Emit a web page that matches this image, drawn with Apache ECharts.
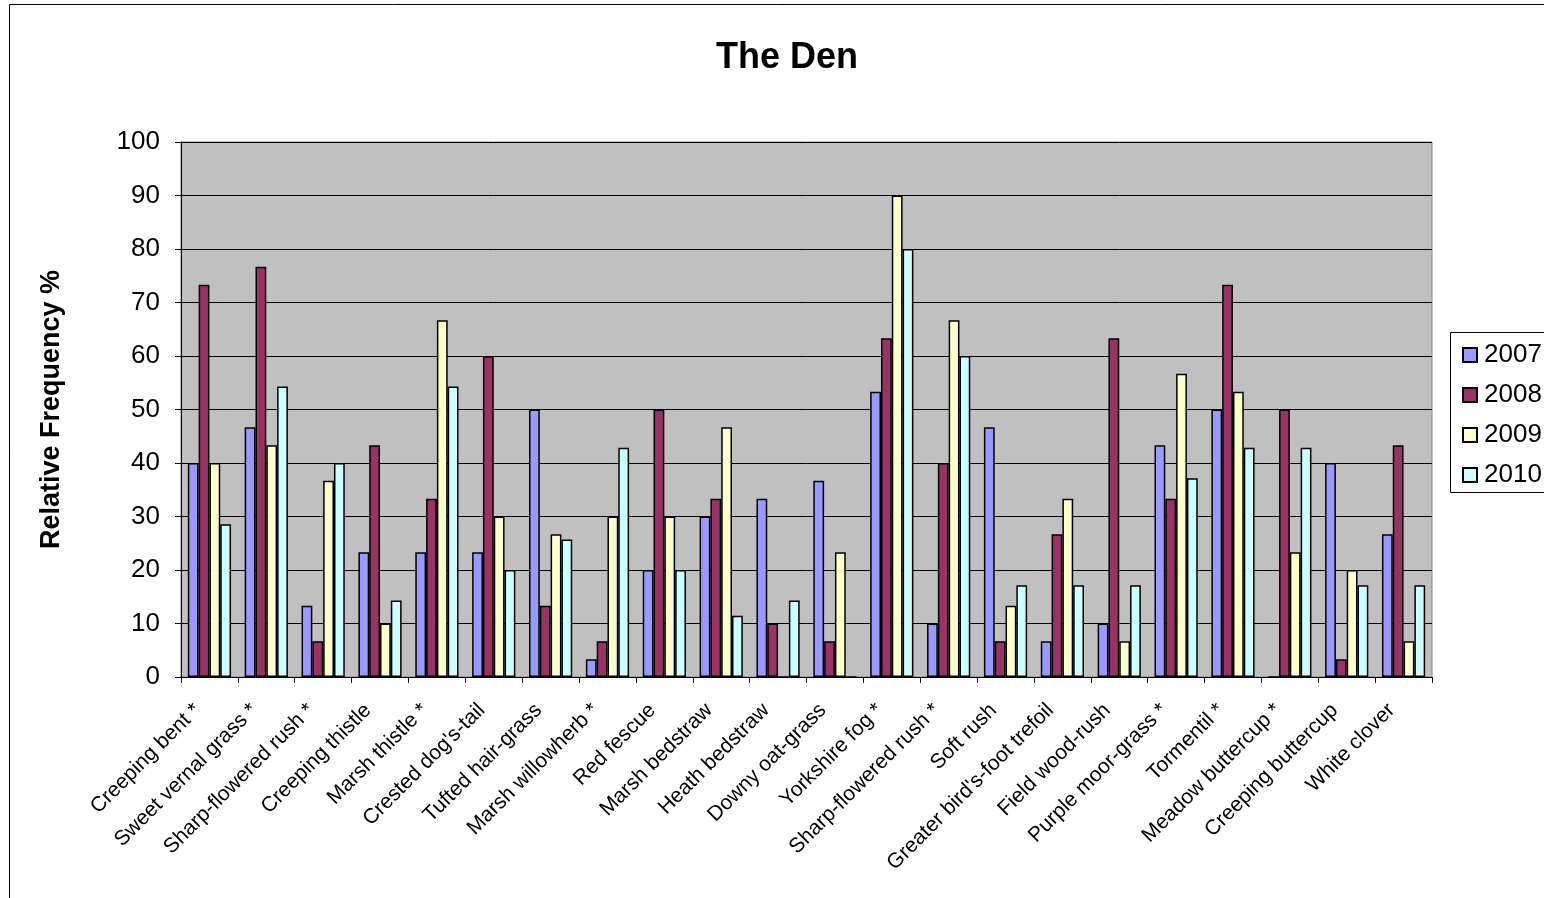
<!DOCTYPE html>
<html>
<head>
<meta charset="utf-8">
<title>The Den</title>
<script src="https://cdn.jsdelivr.net/npm/echarts@6/dist/echarts.min.js"></script>
<style>
  html, body { margin: 0; padding: 0; background: #ffffff; }
  #chart { width: 1544px; height: 898px; }
</style>
</head>
<body>
<div id="chart"></div>
<script>
// Species recorded at The Den (* marks indicator species)
const categories = [
  'Creeping bent *', 'Sweet vernal grass *', 'Sharp-flowered rush *', 'Creeping thistle',
  'Marsh thistle *', "Crested dog's-tail", 'Tufted hair-grass', 'Marsh willowherb *',
  'Red fescue', 'Marsh bedstraw', 'Heath bedstraw', 'Downy oat-grass',
  'Yorkshire fog *', 'Sharp-flowered rush *', 'Soft rush', "Greater bird's-foot trefoil",
  'Field wood-rush', 'Purple moor-grass *', 'Tormentil *', 'Meadow buttercup *',
  'Creeping buttercup', 'White clover'
];

// Relative frequency (%) per survey year
const values2007 = [40, 46.7, 13.3, 23.3, 23.3, 23.3, 50, 3.3, 20, 30, 33.3, 36.7,
                    53.3, 10, 46.7, 6.7, 10, 43.3, 50, 0, 40, 26.7];
const values2008 = [73.3, 76.7, 6.7, 43.3, 33.3, 60, 13.3, 6.7, 50, 33.3, 10, 6.7,
                    63.3, 40, 6.7, 26.7, 63.3, 33.3, 73.3, 50, 3.3, 43.3];
const values2009 = [40, 43.3, 36.7, 10, 66.7, 30, 26.7, 30, 30, 46.7, 0, 23.3,
                    90, 66.7, 13.3, 33.3, 6.7, 56.7, 53.3, 23.3, 20, 6.7];
const values2010 = [28.57, 54.29, 40, 14.29, 54.29, 20, 25.71, 42.86, 20, 11.43, 14.29, 0,
                    80, 60, 17.14, 17.14, 17.14, 37.14, 42.86, 42.86, 17.14, 17.14];

const years = ['2007', '2008', '2009', '2010'];
const yTicks = [0, 10, 20, 30, 40, 50, 60, 70, 80, 90, 100];

const seriesValues = [values2007, values2008, values2009, values2010];
const seriesColors = ['#9999FF', '#993366', '#FFFFCC', '#CCFFFF'];

const FONT = '"Liberation Sans", Arial, sans-serif';

const chart = echarts.init(document.getElementById('chart'), null, { renderer: 'canvas' });

chart.setOption({
  animation: false,
  backgroundColor: '#ffffff',
  title: {
    text: 'The Den',
    left: 782,
    top: 35,
    textAlign: 'center',
    textStyle: { fontFamily: FONT, fontSize: 36, fontWeight: 'bold', color: '#000' }
  },
  graphic: [
    // outer chart frame
    { type: 'rect', silent: true, z: -1,
      shape: { x: 9.5, y: 4.5, width: 1700, height: 1000 },
      style: { fill: 'none', stroke: '#000', lineWidth: 1 } },
    // legend frame
    { type: 'rect', silent: true,
      shape: { x: 1450.5, y: 332.5, width: 200, height: 160 },
      style: { fill: '#fff', stroke: '#000', lineWidth: 1 }, z: 0 }
  ],
  legend: {
    orient: 'vertical',
    left: 1457,
    top: 337,
    itemWidth: 14,
    itemHeight: 14,
    itemGap: 14,
    icon: 'rect',
    data: years,
    z: 5,
    textStyle: { fontFamily: FONT, fontSize: 26, color: '#000', lineHeight: 26, padding: [0, 0, 0, 2] }
  },
  grid: {
    left: 181, right: 1544 - 1432, top: 142, bottom: 898 - 677,
    show: true,
    backgroundColor: '#C0C0C0',
    borderColor: '#808080',
    borderWidth: 1
  },
  xAxis: {
    type: 'category',
    data: categories,
    axisLine: { show: true, lineStyle: { color: '#000', width: 1 } },
    axisTick: { show: true, inside: false, length: 6, alignWithLabel: false, lineStyle: { color: '#000' } },
    axisLabel: {
      interval: 0,
      rotate: 45,
      margin: 18,
      padding: [0, 17, 0, 0],
      fontFamily: FONT,
      fontSize: 21,
      color: '#000'
    },
    splitLine: { show: false }
  },
  yAxis: {
    type: 'value',
    min: yTicks[0],
    max: yTicks[yTicks.length - 1],
    interval: 10,
    name: 'Relative Frequency %',
    nameLocation: 'middle',
    nameGap: 116,
    nameRotate: 90,
    nameTextStyle: { fontFamily: FONT, fontSize: 27, fontWeight: 'bold', color: '#000' },
    axisLine: { show: true, lineStyle: { color: '#000', width: 1 } },
    axisTick: { show: true, inside: false, length: 6, lineStyle: { color: '#000' } },
    axisLabel: { fontFamily: FONT, fontSize: 26, color: '#000', margin: 21 },
    splitLine: { show: true, lineStyle: { color: '#000', width: 1 } }
  },
  series: years.map((y, i) => ({
    name: y,
    type: 'bar',
    data: seriesValues[i],
    barGap: '0%',
    barCategoryGap: '24%',
    itemStyle: { color: seriesColors[i], borderColor: '#000', borderWidth: 1.5 },
    emphasis: { disabled: true }
  }))
});
</script>
</body>
</html>
